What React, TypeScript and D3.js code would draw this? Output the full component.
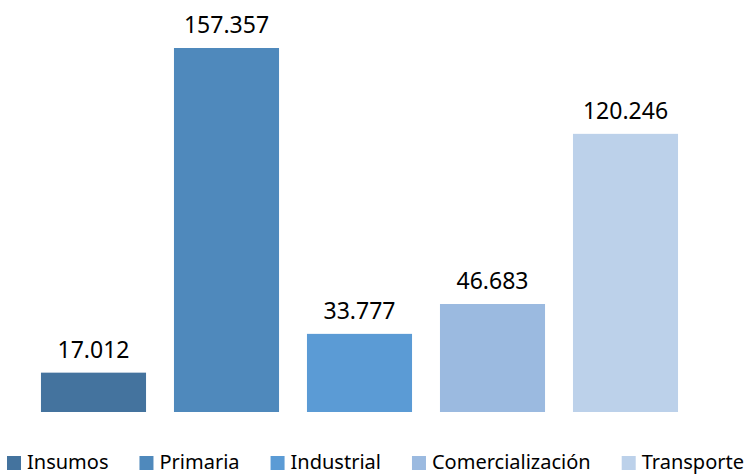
import React, { useEffect, useRef } from 'react';
import * as d3 from 'd3';

const categories = ['Insumos', 'Primaria', 'Industrial', 'Comercialización', 'Transporte'];
const values = [17.012, 157.357, 33.777, 46.683, 120.246];
const labels = ['17.012', '157.357', '33.777', '46.683', '120.246'];
const colors = ['#44739E', '#4F89BC', '#5B9BD5', '#9BBAE0', '#BCD1EA'];

const App = () => {
  const ref = useRef<SVGSVGElement>(null);

  useEffect(() => {
    const svg = d3.select(ref.current);
    svg.selectAll('*').remove();

    const baseY = 412;
    const font = '"Noto Sans", "Open Sans", sans-serif';

    // Scales
    const x = d3.scaleBand<string>()
      .domain(categories)
      .range([27, 692])
      .paddingInner(0.21)
      .paddingOuter(0.105);

    const y = d3.scaleLinear()
      .domain([0, 157.357])
      .range([baseY, 48]);

    const data = categories.map((c, i) => ({ cat: c, value: values[i], label: labels[i], color: colors[i] }));

    // Bars
    svg.append('g').selectAll('rect')
      .data(data).enter()
      .append('rect')
      .attr('x', d => x(d.cat)!)
      .attr('y', d => y(d.value))
      .attr('width', x.bandwidth())
      .attr('height', d => baseY - y(d.value))
      .attr('fill', d => d.color);

    // Value labels
    svg.append('g').selectAll('text')
      .data(data).enter()
      .append('text')
      .attr('x', d => x(d.cat)! + x.bandwidth() / 2)
      .attr('y', d => y(d.value) - 15)
      .attr('text-anchor', 'middle')
      .attr('font-family', font)
      .attr('font-size', 23)
      .attr('fill', '#000')
      .text(d => d.label);

    // Legend
    const legend = svg.append('g');
    let lx = 7;
    data.forEach(d => {
      legend.append('rect')
        .attr('x', lx)
        .attr('y', 456)
        .attr('width', 14)
        .attr('height', 14)
        .attr('fill', d.color);
      const t = legend.append('text')
        .attr('x', lx + 20)
        .attr('y', 469)
        .attr('font-family', font)
        .attr('font-size', 20)
        .attr('fill', '#000')
        .text(d.cat);
      const w = (t.node() as SVGTextElement).getComputedTextLength();
      lx += 20 + w + 31;
    });
  }, []);

  return (
    <svg
      ref={ref}
      width={748}
      height={475}
      style={{ position: 'absolute', left: 0, top: 0, background: '#fff' }}
    />
  );
};

export default App;
